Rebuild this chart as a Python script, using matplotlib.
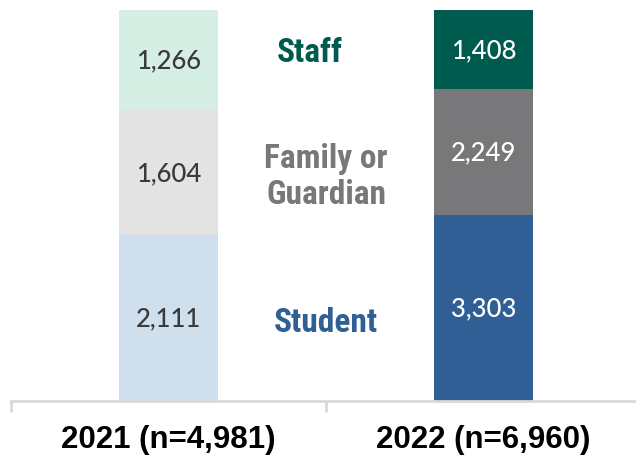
import numpy as np
import matplotlib
matplotlib.use("Agg")
import matplotlib.pyplot as plt
from matplotlib import font_manager

# data
years = ["2021 (n=4,981)", "2022 (n=6,960)"]
groups = ["Student", "Family or\nGuardian", "Staff"]
student = [2111, 3303]
family = [1604, 2249]
staff = [1266, 1408]

light_colors = ["#cfdfee", "#e3e3e3", "#d5efe5"]
dark_colors = ["#2f5f94", "#78787a", "#005b4f"]
label_colors = ["#2f5f94", "#78787a", "#005b4f"]
label_y = [20.2, 57.5, 89.3]
label_x = [0.5, 0.5, 0.45]

names = {f.name for f in font_manager.fontManager.ttflist}
narrow = "DejaVu Sans"
for cand in ["Roboto Condensed", "Liberation Sans Narrow", "Barlow Condensed"]:
    if cand in names:
        narrow = cand
        break
value_font = "Lato" if "Lato" in names else "DejaVu Sans"

fig = plt.figure(figsize=(6.36, 4.56), dpi=100)
ax = fig.add_axes([11 / 636, 54 / 456, 630 / 636, 391 / 456])

vals = np.array([student, family, staff], dtype=float)
totals = vals.sum(axis=0)
pct = vals / totals * 100
x = np.arange(len(years))
bottom = np.zeros(len(years))
for i in range(len(groups)):
    cols = [light_colors[i], dark_colors[i]]
    ax.bar(x, pct[i], bottom=bottom, width=0.314, color=cols, linewidth=0)
    for j in range(len(years)):
        ax.text(x[j], bottom[j] + pct[i][j] / 2, f"{int(vals[i][j]):,}",
                ha="center", va="center", fontsize=18.5, family=value_font,
                fontweight="medium",
                color="#3a3a3a" if j == 0 else "white")
    bottom += pct[i]

# middle group labels
for i, g in enumerate(groups):
    ax.text(label_x[i], label_y[i], g, ha="center", va="center",
            fontsize=24, fontweight="bold", family=narrow,
            color=label_colors[i], linespacing=1.15)

ax.set_xlim(-0.5, 1.5)
ax.set_ylim(0, 100)
for s in ["top", "right", "left"]:
    ax.spines[s].set_visible(False)
ax.spines["bottom"].set_color("#d9d9d9")
ax.spines["bottom"].set_linewidth(2)
ax.set_yticks([])
ax.set_xticks([-0.5, 0.5, 1.5])
ax.set_xticklabels([])
ax.tick_params(axis="x", which="major", length=8, width=2, color="#d9d9d9")
for j, yr in enumerate(years):
    ax.text(x[j], -11.7, yr, ha="center", va="baseline", fontsize=22.5,
            fontweight="bold", family="Liberation Sans", color="black",
            clip_on=False)

fig.savefig("out.png", dpi=100)
